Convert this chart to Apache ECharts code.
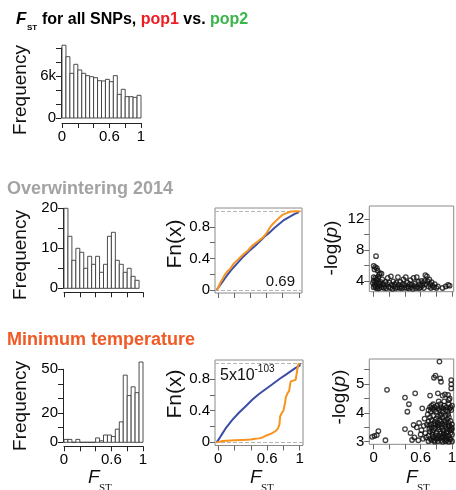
<!DOCTYPE html>
<html><head><meta charset="utf-8">
<script src="https://cdn.jsdelivr.net/npm/echarts@6/dist/echarts.min.js"></script>
<style>html,body{margin:0;padding:0;background:#fff}#c{width:456px;height:490px}</style>
</head><body><div id="c"></div>
<script>
// ---------- data ----------
const binEdges = [0,0.05,0.1,0.15,0.2,0.25,0.3,0.35,0.4,0.45,0.5,0.55,0.6,0.65,0.7,0.75,0.8,0.85,0.9,0.95,1.0];
const allSnpCounts = [10400,8760,6380,7670,6860,6380,6050,5900,5760,5330,5290,5520,5190,6050,3380,4100,3050,3050,2950,3240];
const overwinterCounts = [20,13,7,10,9,5,8,6,8,4,6,13,14,7,6,4,5,3,2];
const minTempCounts = [2,2,0,2,0,0,0,0,3,1,5,5,4,9,14,46,32,38,34,55];

const histXTicks = [0,0.2,0.4,0.6,0.8,1];
const histXLabels = [0,0.6,1];
const allSnpYTicks = [0,2000,4000,6000,8000,10000];
const allSnpYLabels = [0,6000];
const overwinterYTicks = [0,5,10,15,20];
const overwinterYLabels = [0,10,20];
const minTempYTicks = [0,10,20,30,40,50];
const minTempYLabels = [0,20,50];
const ecdfYTicks = [0,0.2,0.4,0.6,0.8];
const ecdfYLabels = [0,0.4,0.8];
const owScatterYTicks = [4,6,8,10,12];
const owScatterYLabels = [4,8,12];
const mtScatterYTicks = [3,3.5,4,4.5,5,5.5];
const mtScatterYLabels = [3,4,5];

// ECDF curves (x, Fn(x))
const owEcdfAll = [[-0.02,0],[0.0,0.02],[0.045,0.09],[0.1,0.17],[0.16,0.25],[0.23,0.33],[0.3,0.41],[0.39,0.5],[0.46,0.56],[0.52,0.62],[0.58,0.68],[0.64,0.73],[0.7,0.79],[0.76,0.84],[0.82,0.89],[0.89,0.93],[0.95,0.965],[1.0,0.985]];
const owEcdfSel = [[-0.02,0],[0.0,0.03],[0.03,0.1],[0.05,0.13],[0.08,0.19],[0.11,0.23],[0.15,0.27],[0.19,0.33],[0.25,0.39],[0.31,0.45],[0.37,0.5],[0.43,0.57],[0.5,0.62],[0.56,0.67],[0.6,0.72],[0.64,0.79],[0.68,0.84],[0.72,0.88],[0.76,0.92],[0.8,0.955],[0.85,0.975],[0.9,0.995],[1.02,1.0]];
const mtEcdfAll = [[-0.02,0],[0.0,0.02],[0.02,0.06],[0.05,0.11],[0.1,0.19],[0.17,0.28],[0.25,0.37],[0.34,0.46],[0.42,0.54],[0.5,0.61],[0.58,0.67],[0.66,0.73],[0.75,0.8],[0.83,0.855],[0.9,0.905],[0.95,0.94],[1.0,0.97],[1.0,1.0]];
const mtEcdfSel = [[-0.02,0],[0.02,0.008],[0.05,0.016],[0.1,0.02],[0.2,0.025],[0.3,0.03],[0.4,0.035],[0.45,0.045],[0.5,0.05],[0.55,0.065],[0.6,0.09],[0.65,0.11],[0.7,0.14],[0.73,0.17],[0.75,0.22],[0.76,0.33],[0.78,0.37],[0.8,0.4],[0.82,0.5],[0.83,0.57],[0.85,0.62],[0.87,0.65],[0.88,0.72],[0.89,0.77],[0.92,0.78],[0.95,0.79],[0.97,0.81],[0.98,0.98],[1.0,1.0]];

// (FST, -log p) points
const owScatter = [
[0.03,7.2],[0.0,5.95],[0.02,5.8],[0.04,5.65],[0.01,5.5],[0.05,5.35],[0.08,5.0],[0.1,4.95],[0.07,4.85],[0.0,4.5],[0.02,4.4],[0.04,4.3],[0.06,4.55],
[0.0,3.2],[0.01,3.5],[0.02,3.9],[0.03,3.1],[0.04,4.1],[0.05,3.3],[0.06,3.7],[0.07,3.05],[0.08,3.45],[0.09,3.9],[0.1,3.2],[0.11,4.2],[-0.01,3.75],[0.02,3.35],[0.05,3.05],[0.08,3.65],[0.0,4.05],
[0.12,3.6],[0.13,3.1],[0.14,3.35],[0.15,3.9],[0.16,3.05],[0.17,3.6],[0.18,4.4],[0.19,3.25],[0.2,3.8],[0.21,3.1],[0.22,4.6],[0.23,3.5],[0.24,3.0],[0.25,3.95],
[0.26,3.3],[0.27,3.6],[0.28,3.05],[0.29,3.8],[0.3,3.2],[0.31,4.5],[0.32,3.5],[0.33,3.1],[0.34,3.9],[0.35,3.3],[0.36,3.05],[0.37,3.6],[0.38,4.2],[0.39,3.15],[0.4,3.45],
[0.41,4.5],[0.42,3.1],[0.43,3.8],[0.44,3.3],[0.45,3.05],[0.46,3.6],[0.47,4.1],[0.48,3.2],[0.49,3.5],[0.5,3.0],[0.51,4.4],[0.52,3.35],[0.53,3.7],[0.54,3.1],[0.55,4.5],
[0.56,3.25],[0.57,3.9],[0.58,3.05],[0.59,3.55],[0.6,3.2],[0.61,4.0],[0.62,3.4],[0.63,3.75],[0.64,3.1],[0.65,4.0],[0.66,4.75],[0.67,3.6],[0.68,4.6],[0.69,3.95],[0.7,3.3],[0.71,4.2],[0.72,3.6],[0.73,3.1],[0.74,3.85],[0.75,3.4],
[0.77,3.2],[0.78,3.6],[0.8,3.1],[0.82,3.3],[0.88,3.1],[0.92,3.3],[0.95,3.5],[0.97,3.4]
];
const mtScatter = [
[-0.02,3.17],[0.01,3.2],[0.04,3.23],[0.06,3.37],[0.15,3.05],[0.17,4.8],
[0.40,4.53],[0.45,4.3],[0.43,4.04],[0.40,3.44],[0.53,4.68],[0.62,4.16],[0.49,3.06],[0.51,3.58],[0.47,3.3],[0.52,3.15],[0.55,3.5],[0.57,3.05],[0.58,3.65],[0.6,3.25],[0.61,3.4],[0.63,3.1],[0.64,3.55],[0.65,3.8],[0.66,3.3],[0.67,3.15],[0.68,3.6],[0.69,3.95],
[0.72,4.6],[0.77,5.22],[0.79,5.29],[0.84,5.78],[0.85,5.2],[0.86,5.08],[0.82,4.68],[0.91,4.64],[0.99,5.14],[0.99,4.99],[0.99,4.85],[0.88,4.6],[0.95,4.62],[0.97,4.5],
[0.70,4.1],[0.72,4.2],[0.73,4.05],[0.74,4.25],[0.75,4.15],[0.76,4.3],[0.77,4.1],[0.78,4.2],[0.8,4.05],[0.81,4.25],[0.82,4.15],[0.84,4.1],[0.85,4.3],[0.86,4.2],[0.88,4.05],[0.89,4.15],[0.9,4.25],[0.92,4.1],[0.93,4.2],[0.95,4.05],[0.96,4.3],[0.97,4.15],[0.98,4.2],[0.99,4.1],[1.0,4.25],[0.83,4.4],[0.9,4.4],[0.96,4.45],
[0.7,3.02],[0.7,3.2],[0.71,3.45],[0.7,3.7],
[0.72,3.1],[0.72,3.35],[0.73,3.6],[0.72,3.85],
[0.74,3.05],[0.75,3.25],[0.74,3.5],[0.74,3.75],
[0.76,3.15],[0.76,3.4],[0.77,3.62],[0.76,3.9],
[0.78,3.0],[0.79,3.22],[0.78,3.48],[0.78,3.7],
[0.8,3.1],[0.8,3.3],[0.81,3.55],[0.8,3.8],
[0.82,3.02],[0.82,3.2],[0.83,3.42],[0.82,3.65],[0.82,3.88],
[0.84,3.12],[0.85,3.35],[0.84,3.58],[0.84,3.75],
[0.86,3.05],[0.86,3.28],[0.87,3.5],[0.86,3.7],[0.86,3.95],
[0.88,3.0],[0.88,3.18],[0.89,3.4],[0.88,3.62],[0.88,3.85],
[0.9,3.08],[0.9,3.3],[0.91,3.52],[0.9,3.72],
[0.92,3.02],[0.92,3.22],[0.93,3.45],[0.92,3.68],[0.92,3.9],
[0.94,3.12],[0.94,3.35],[0.95,3.55],[0.94,3.78],
[0.96,3.0],[0.96,3.2],[0.97,3.42],[0.96,3.65],[0.96,3.85],
[0.98,3.08],[0.98,3.3],[0.99,3.5],[0.98,3.72],
[1.0,3.02],[1.0,3.25],[1.0,3.45],[1.0,3.6],
[0.71,3.55],[0.75,3.33],[0.79,3.6],[0.83,3.5],[0.87,3.15],[0.91,3.6],[0.93,3.3],[0.97,3.55],[0.99,3.4],[0.85,3.9],[0.95,3.95],[0.89,3.25],[0.81,3.12],[0.77,3.05],[0.93,3.05],[0.97,3.1]
];

// ---------- styling ----------
const FONT = "'Liberation Sans', Arial, Helvetica, sans-serif";
const BLUE = '#3b4ea6', ORANGE = '#f7931e';
const chart = echarts.init(document.getElementById('c'), null, {renderer:'canvas'});

function fmtNum(v){ if (Math.abs(v) < 1e-9) return '0'; return String(+v.toFixed(2)); }

function axis(kind, grid, min, max, ticks, labels, boxed, extra){
  const c = boxed ? '#666' : '#222';
  const o = {
    type:'value', gridIndex:grid, min:min, max:max,
    splitLine:{show:false},
    axisLine:{show:!boxed, onZero:false, lineStyle:{color:'#222', width:1}},
    axisTick:{show:true, customValues:ticks, length:5, lineStyle:{color:c, width:1}},
    axisLabel:{show:labels.length>0, customValues:labels, margin:kind==='x'?6:5, color:'#000', fontSize:15, fontFamily:FONT, formatter:fmtNum}
  };
  return Object.assign(o, extra||{});
}

const grids = [
  {left:62, top:48, width:79, height:70},        // 0 all SNPs hist
  {left:64, top:208.3, width:79, height:80},     // 1 overwinter hist
  {left:215, top:208, width:87, height:85},      // 2 overwinter ecdf
  {left:369.3, top:206, width:84.4, height:85.7},// 3 overwinter scatter
  {left:64, top:369.3, width:79, height:73},     // 4 min temp hist
  {left:215, top:360, width:88, height:85.5},    // 5 min temp ecdf
  {left:369.3, top:359, width:84.4, height:85.3} // 6 min temp scatter
].map((g,i)=>Object.assign({outerBoundsMode:'none', containLabel:false}, g,
   (i===2||i===3||i===5||i===6) ? {show:true, borderColor:'#8a8a8a', borderWidth:1, backgroundColor:'transparent'} : {}));

const xAxes = [
  axis('x',0,0,1,histXTicks,histXLabels,false,{offset:5}),
  axis('x',1,0,1,histXTicks,[],false,{offset:4}),
  axis('x',2,-0.04,1.04,histXTicks,[],true),
  axis('x',3,-0.056,1.022,histXTicks,[],true),
  axis('x',4,0,1,histXTicks,histXLabels,false,{offset:4}),
  axis('x',5,-0.04,1.04,histXTicks,histXLabels,true),
  axis('x',6,-0.056,1.022,histXTicks,histXLabels,true)
];
const yAxes = [
  axis('y',0,0,10000,allSnpYTicks,allSnpYLabels,false,{offset:1}),
  axis('y',1,0,20,overwinterYTicks,overwinterYLabels,false,{offset:1}),
  axis('y',2,-0.04,1.04,ecdfYTicks,ecdfYLabels,true),
  axis('y',3,2.62,13.68,owScatterYTicks,owScatterYLabels,true),
  axis('y',4,0,50,minTempYTicks,minTempYLabels,false,{offset:1}),
  axis('y',5,-0.04,1.04,ecdfYTicks,ecdfYLabels,true),
  axis('y',6,2.91,5.87,mtScatterYTicks,mtScatterYLabels,true)
];
yAxes[0].axisLabel.formatter = v => v === 0 ? '0' : (v/1000) + 'k';

function histSeries(idx, counts){
  return {
    type:'custom', xAxisIndex:idx, yAxisIndex:idx, clip:false, silent:true,
    data: counts.map((c,i)=>[binEdges[i], binEdges[i+1], c]),
    encode:{x:[0,1], y:2},
    renderItem:(params, api)=>{
      const p0 = api.coord([api.value(0), 0]);
      const p1 = api.coord([api.value(1), api.value(2)]);
      return {type:'rect', shape:{x:p0[0], y:p1[1], width:p1[0]-p0[0], height:p0[1]-p1[1]},
              style:{fill:'#fff', stroke:'#3a3a3a', lineWidth:0.9}};
    }
  };
}
function ecdfSeries(idx, data, color, withRefLines){
  const s = {type:'line', xAxisIndex:idx, yAxisIndex:idx, data:data, showSymbol:false, symbol:'none',
    lineStyle:{color:color, width:2}, silent:true, z:3};
  if (withRefLines) s.markLine = {silent:true, symbol:['none','none'], label:{show:false},
    lineStyle:{type:'dashed', color:'#b5b5b5', width:1}, data:[{yAxis:0},{yAxis:1}], z:1};
  return s;
}
function scatterSeries(idx, data){
  return {type:'scatter', xAxisIndex:idx, yAxisIndex:idx, data:data, symbol:'circle', symbolSize:4.5, silent:true,
    itemStyle:{color:'rgba(255,255,255,0)', borderColor:'#111', borderWidth:1.3}};
}

function txt(x, y, text, font, fill, extra){
  return Object.assign({type:'text', x:x, y:y, silent:true,
    style:{text:text, font:font, fill:fill||'#111', align:'left', verticalAlign:'middle'}}, extra||{});
}
function rot(x, y, text, font){
  return {type:'text', x:x, y:y, rotation:Math.PI/2, silent:true,
    style:{text:text, font:font, fill:'#111', align:'center', verticalAlign:'middle'}};
}
const big = '19px ' + FONT;
const graphics = [
  // top title
  txt(16, 19.5, 'F', 'italic bold 17px ' + FONT, '#000'),
  txt(27, 27.5, 'ST', 'bold 8px ' + FONT, '#000'),
  {type:'text', x:42, y:19.5, silent:true, style:{text:'{k|for all SNPs, }{r|pop1}{k| vs. }{g|pop2}',
    align:'left', verticalAlign:'middle',
    rich:{k:{font:'bold 16px ' + FONT, fill:'#000'}, r:{font:'bold 16px ' + FONT, fill:'#ed1c24'}, g:{font:'bold 16px ' + FONT, fill:'#39b54a'}}}},
  txt(7, 189.5, 'Overwintering 2014', 'bold 18px ' + FONT, '#a3a3a3'),
  txt(7, 340.5, 'Minimum temperature', 'bold 18px ' + FONT, '#f15a24'),
  // axis names
  rot(21, 90, 'Frequency', big),
  rot(21, 255, 'Frequency', big),
  rot(21, 406, 'Frequency', big),
  rot(175, 244, 'Fn(x)', '21px ' + FONT),
  rot(175, 394, 'Fn(x)', '21px ' + FONT),
  {type:'text', x:332, y:248, rotation:Math.PI/2, silent:true, style:{text:'-log({i|p})', font:'19px ' + FONT, fill:'#111', align:'center', verticalAlign:'middle', rich:{i:{font:'italic 19px ' + FONT, fill:'#111'}}}},
  {type:'text', x:340, y:397, rotation:Math.PI/2, silent:true, style:{text:'-log({i|p})', font:'19px ' + FONT, fill:'#111', align:'center', verticalAlign:'middle', rich:{i:{font:'italic 19px ' + FONT, fill:'#111'}}}},
  // F_ST x-axis titles
  txt(88, 478, 'F', 'italic 19px ' + FONT, '#111'),
  txt(99, 488, 'ST', '11px "Liberation Serif", "DejaVu Serif", serif', '#111'),
  txt(250, 478, 'F', 'italic 19px ' + FONT, '#111'),
  txt(261, 488, 'ST', '11px "Liberation Serif", "DejaVu Serif", serif', '#111'),
  txt(406, 478, 'F', 'italic 19px ' + FONT, '#111'),
  txt(417, 488, 'ST', '11px "Liberation Serif", "DejaVu Serif", serif', '#111'),
  // annotations
  txt(295, 281.5, '0.69', '15px ' + FONT, '#111', {style:{text:'0.69', font:'15px ' + FONT, fill:'#111', align:'right', verticalAlign:'middle'}}),
  txt(220, 375.5, '5x10', '16px ' + FONT, '#111'),
  txt(254.5, 369, '-103', '10px ' + FONT, '#111')
];

chart.setOption({
  animation:false,
  backgroundColor:'#fff',
  grid:grids,
  xAxis:xAxes,
  yAxis:yAxes,
  series:[
    histSeries(0, allSnpCounts),
    histSeries(1, overwinterCounts),
    histSeries(4, minTempCounts),
    ecdfSeries(2, owEcdfAll, BLUE, true),
    ecdfSeries(2, owEcdfSel, ORANGE, false),
    ecdfSeries(5, mtEcdfAll, BLUE, true),
    ecdfSeries(5, mtEcdfSel, ORANGE, false),
    scatterSeries(3, owScatter),
    scatterSeries(6, mtScatter)
  ],
  graphic:graphics
});
</script></body></html>
